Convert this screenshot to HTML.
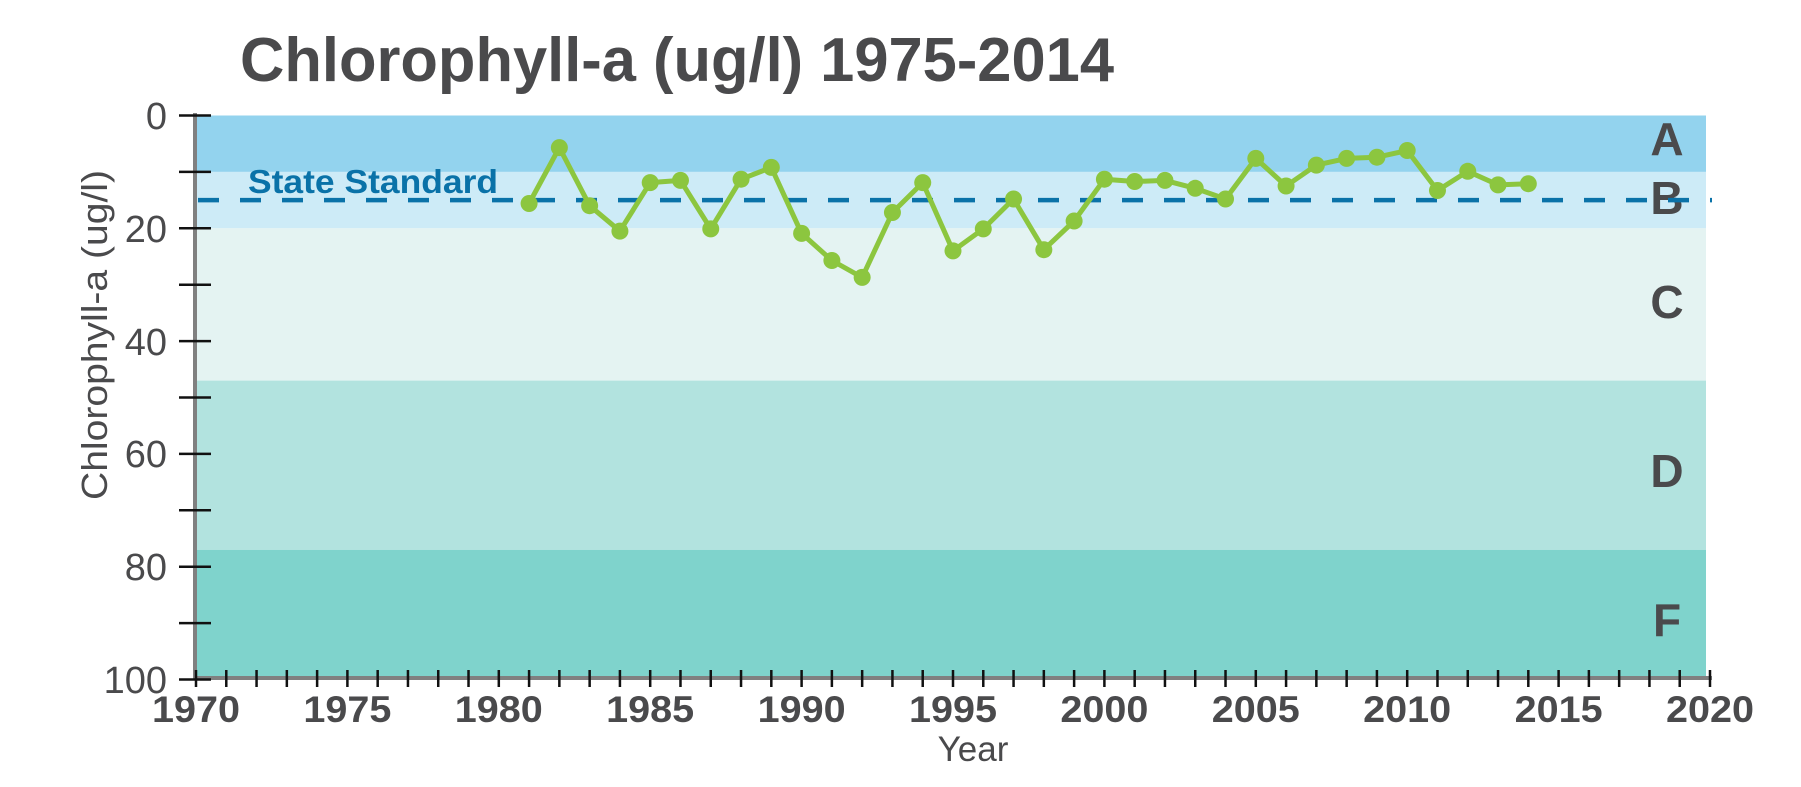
<!DOCTYPE html>
<html><head><meta charset="utf-8"><style>
html,body{margin:0;padding:0;background:#fff;}
svg{display:block;}
</style></head><body>
<svg width="1801" height="787" viewBox="0 0 1801 787" xmlns="http://www.w3.org/2000/svg" font-family="Liberation Sans, sans-serif">
<defs>
<marker id="dot" markerWidth="20" markerHeight="20" refX="10" refY="10" markerUnits="userSpaceOnUse">
<circle cx="10" cy="10" r="8.5" fill="#8cc63f"/>
</marker>
</defs>
<rect x="196" y="115.5" width="1510" height="56.4" fill="#93d3ee"/>
<rect x="196" y="171.9" width="1510" height="56.4" fill="#cdebf7"/>
<rect x="196" y="228.3" width="1510" height="152.3" fill="#e4f3f2"/>
<rect x="196" y="380.6" width="1510" height="169.2" fill="#b2e3df"/>
<rect x="196" y="549.8" width="1510" height="128.2" fill="#7fd3cc"/>
<text x="240" y="81" font-size="62" font-weight="bold" fill="#4a4a4c" textLength="874" lengthAdjust="spacingAndGlyphs">Chlorophyll-a (ug/l) 1975-2014</text>
<g font-size="46" font-weight="bold" fill="#4a4a4c" text-anchor="middle">
<text x="1667" y="155">A</text>
<text x="1667" y="214">B</text>
<text x="1667" y="318">C</text>
<text x="1667" y="487">D</text>
<text x="1667" y="636">F</text>
</g>
<line x1="196" y1="200.1" x2="1712" y2="200.1" stroke="#0a72a8" stroke-width="4.5" stroke-dasharray="21 21" stroke-dashoffset="-2"/>
<text x="248" y="193" font-size="33" font-weight="bold" fill="#0a72a8" textLength="250" lengthAdjust="spacingAndGlyphs">State Standard</text>
<line x1="195" y1="113" x2="195" y2="680" stroke="#808080" stroke-width="4"/>
<line x1="193" y1="678" x2="1712" y2="678" stroke="#808080" stroke-width="4"/>
<line x1="195" y1="114.25" x2="195" y2="682" stroke="#111" stroke-width="32" stroke-dasharray="2.5 53.9"/>
<line x1="194.75" y1="678.5" x2="1712" y2="678.5" stroke="#111" stroke-width="17" stroke-dasharray="2.5 27.78"/>
<g font-size="38" fill="#4a4a4c" text-anchor="end">
<text x="167" y="129">0</text>
<text x="167" y="242">20</text>
<text x="167" y="355">40</text>
<text x="167" y="467">60</text>
<text x="167" y="580">80</text>
<text x="167" y="693">100</text>
</g>
<g font-size="37" font-weight="bold" fill="#4a4a4c" text-anchor="middle">
<text x="196" y="722" textLength="88" lengthAdjust="spacingAndGlyphs">1970</text>
<text x="347.4" y="722" textLength="88" lengthAdjust="spacingAndGlyphs">1975</text>
<text x="498.8" y="722" textLength="88" lengthAdjust="spacingAndGlyphs">1980</text>
<text x="650.2" y="722" textLength="88" lengthAdjust="spacingAndGlyphs">1985</text>
<text x="801.6" y="722" textLength="88" lengthAdjust="spacingAndGlyphs">1990</text>
<text x="953" y="722" textLength="88" lengthAdjust="spacingAndGlyphs">1995</text>
<text x="1104.4" y="722" textLength="88" lengthAdjust="spacingAndGlyphs">2000</text>
<text x="1255.8" y="722" textLength="88" lengthAdjust="spacingAndGlyphs">2005</text>
<text x="1407.2" y="722" textLength="88" lengthAdjust="spacingAndGlyphs">2010</text>
<text x="1558.6" y="722" textLength="88" lengthAdjust="spacingAndGlyphs">2015</text>
<text x="1710" y="722" textLength="88" lengthAdjust="spacingAndGlyphs">2020</text>
</g>
<text transform="translate(107,335) rotate(-90)" font-size="36" fill="#4a4a4c" text-anchor="middle" textLength="330" lengthAdjust="spacingAndGlyphs">Chlorophyll-a (ug/l)</text>
<text x="973" y="761" font-size="35" fill="#4a4a4c" text-anchor="middle">Year</text>
<polyline fill="none" stroke="#8cc63f" stroke-width="5" stroke-linejoin="round" marker-start="url(#dot)" marker-mid="url(#dot)" marker-end="url(#dot)" points="529.08,203.5 559.36,147.6 589.64,205.7 619.92,231.1 650.2,182.6 680.48,180.4 710.76,228.9 741.04,179.2 771.32,167.4 801.6,233.4 831.88,260.5 862.16,277.4 892.44,212.5 922.72,182.6 953,250.9 983.28,228.9 1013.56,199 1043.84,249.7 1074.12,221 1104.4,179.2 1134.68,181.5 1164.96,180.4 1195.24,188.3 1225.52,199 1255.8,158.4 1286.08,186 1316.36,165.1 1346.64,158.4 1376.92,157.2 1407.2,150.5 1437.48,190.5 1467.76,171.3 1498.04,184.9 1528.32,183.7"/>
</svg>
</body></html>
